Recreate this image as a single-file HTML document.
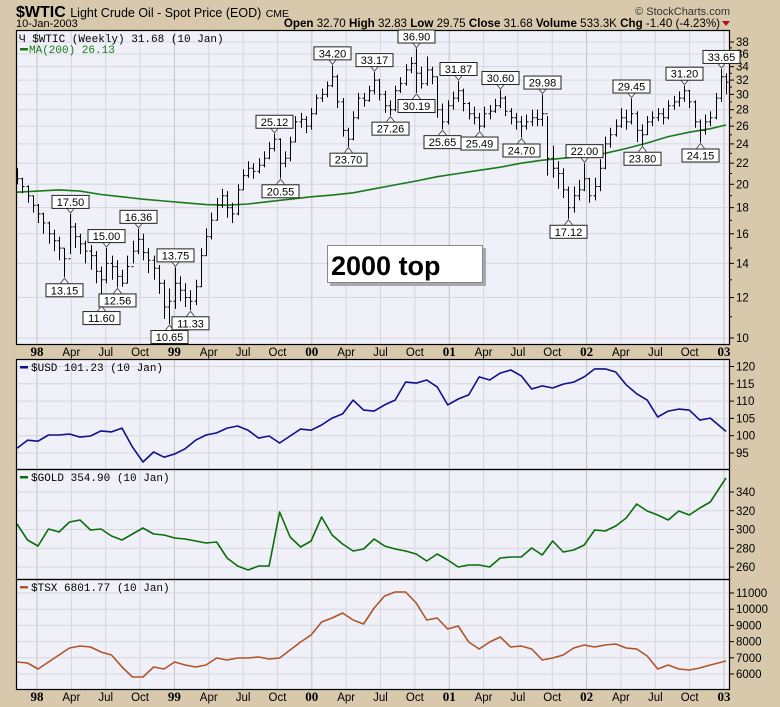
<!DOCTYPE html>
<html><head><meta charset="utf-8"><style>
html,body{margin:0;padding:0;background:#d8c9ad;}
svg{display:block;font-family:"Liberation Sans",sans-serif;}
</style></head><body>
<svg id="c" width="780" height="707" viewBox="0 0 780 707" xmlns="http://www.w3.org/2000/svg">
<rect x="0" y="0" width="780" height="707" fill="#d8c9ad"/>
<g>
<text x="16" y="17" font-size="16" font-weight="bold" fill="#000">$WTIC <tspan font-size="12.5" font-weight="normal">Light Crude Oil - Spot Price (EOD)</tspan> <tspan font-size="10.5" font-weight="normal">CME</tspan></text>
<text x="16" y="27" font-size="11" fill="#000">10-Jan-2003</text>
<text x="730" y="15" font-size="11" fill="#333" text-anchor="end">© StockCharts.com</text>
<text x="720" y="27" font-size="11.6" fill="#000" text-anchor="end"><tspan font-weight="bold">Open</tspan> 32.70 <tspan font-weight="bold">High</tspan> 32.83 <tspan font-weight="bold">Low</tspan> 29.75 <tspan font-weight="bold">Close</tspan> 31.68 <tspan font-weight="bold">Volume</tspan> 533.3K <tspan font-weight="bold">Chg</tspan> -1.40 (-4.23%)</text>
<path d="M722,21 L730,21 L726,26 Z" fill="#b0102a"/>
</g>
<g id="plots"></g>
</svg>
<script>
// ===== Data =====
const quarterLabels = ["98","Apr","Jul","Oct","99","Apr","Jul","Oct","00","Apr","Jul","Oct","01","Apr","Jul","Oct","02","Apr","Jul","Oct","03"];
const priceTicks = [10,12,14,16,18,20,22,24,26,28,30,32,34,36,38];
const usdTicks = [95,100,105,110,115,120];
const goldTicks = [260,280,300,320,340];
const tsxTicks = [6000,7000,8000,9000,10000,11000];

// biweekly WTIC bars
const wticClose = [20.5,19.8,19.0,18.2,17.5,16.8,16.0,15.5,15.0,14.3,
16.5,15.8,15.3,14.8,14.5,13.5,13.0,14.0,13.8,13.2,
12.8,13.8,14.8,15.6,14.7,14.2,13.7,12.8,11.5,11.8,
12.8,12.4,12.0,11.8,12.6,14.5,15.8,17.0,18.2,19.0,
18.0,17.5,19.5,20.8,21.5,21.2,21.8,22.5,23.5,24.5,
22.0,22.5,24.2,26.5,26.8,26.0,27.5,29.5,30.0,31.2,
32.5,29.0,25.5,24.5,27.0,29.5,29.2,30.5,32.0,30.0,
28.5,28.0,30.5,31.5,33.5,34.5,33.0,31.5,33.5,32.5,
28.0,26.5,28.5,29.5,30.5,28.8,27.5,27.0,26.0,27.5,
27.8,28.5,29.5,27.8,27.0,26.5,26.0,26.5,27.0,26.8,
27.5,22.5,21.5,21.0,19.5,18.0,19.0,19.5,20.5,19.0,
19.8,21.5,24.0,25.0,26.0,27.0,26.5,27.5,25.5,25.0,
26.5,27.0,27.5,27.0,28.5,29.0,29.5,30.5,29.0,26.5,
25.5,26.5,27.0,29.5,32.5,31.68];
const wticHigh = [21.5,20.6,19.9,19.0,18.3,17.6,16.9,16.3,15.8,15.0,
17.5,16.8,16.0,15.5,15.2,14.8,13.8,15.00,14.5,14.2,
13.6,14.5,15.5,16.36,16.0,15.0,14.5,13.9,13.0,12.5,
13.75,13.2,12.8,12.4,13.0,15.0,16.4,17.6,18.8,19.6,
19.4,18.4,20.0,21.4,22.2,22.0,22.5,23.2,24.2,25.12,
24.6,23.2,24.8,27.2,27.6,27.2,28.2,30.0,30.8,31.8,
34.20,32.8,29.5,25.8,27.8,30.2,30.2,31.2,33.17,32.2,
30.5,29.2,31.2,32.4,34.4,35.5,36.90,34.0,35.6,34.0,
32.5,28.8,29.2,30.4,31.87,30.8,29.0,28.4,27.6,28.4,
28.6,29.4,30.60,29.8,28.2,27.6,27.2,27.4,28.0,28.0,
29.98,27.2,23.8,22.2,21.5,19.8,19.8,20.4,22.00,20.6,
20.6,22.4,24.8,25.8,26.8,28.2,28.0,29.45,27.8,26.2,
27.2,27.8,28.2,28.2,29.2,29.8,30.4,31.20,30.6,29.2,
26.8,27.4,27.8,30.2,33.65,33.0];
const wticLow = [20.0,19.2,18.4,17.6,16.8,16.0,15.3,14.8,14.2,13.15,
14.6,15.0,14.6,14.0,13.6,12.8,11.60,12.8,13.0,12.56,
12.6,12.8,14.0,14.6,14.2,13.4,13.0,12.2,10.9,10.65,
11.4,11.8,11.5,11.33,11.6,12.6,14.5,15.6,17.0,18.0,
17.2,16.8,17.4,19.5,20.6,20.5,21.0,21.6,22.4,23.2,
20.55,21.6,22.2,24.2,25.8,25.2,25.6,27.4,29.0,29.6,
31.0,28.2,24.8,23.70,24.4,26.8,28.4,29.0,30.0,29.2,
27.6,27.26,27.8,30.2,31.2,33.0,30.19,30.8,31.2,31.4,
27.0,25.65,26.2,28.0,29.0,27.8,26.8,26.2,25.49,25.8,
26.8,27.6,28.2,27.2,26.2,25.6,24.70,25.6,26.0,26.0,
26.0,20.8,20.6,19.6,18.8,17.12,17.6,18.6,19.4,18.4,
18.6,19.4,21.4,23.6,24.8,25.8,25.6,26.2,24.2,23.80,
25.0,26.0,26.6,26.2,26.8,28.0,28.4,29.0,28.2,25.8,
24.15,25.0,26.0,26.8,29.0,30.0];
const highMarks = [10,17,23,30,49,60,68,76,84,92,100,108,117,127,134];
const lowMarks = [9,16,19,29,33,50,63,71,76,81,88,96,105,119,130];

// MA(200) every 8 weeks (4 bars), last point at the final bar
const ma200 = [19.3,19.4,19.5,19.4,19.1,18.9,18.7,18.55,18.4,18.25,18.2,18.3,18.5,18.7,18.9,19.05,19.25,19.6,19.95,20.3,20.7,21.0,21.3,21.6,22.0,22.3,22.5,22.7,23.0,23.5,24.1,24.8,25.3,25.7,26.13];

// 4-weekly line series
const usdVals = [96.4,98.7,98.4,100.2,100.2,100.5,99.6,99.9,101.4,101.1,102.2,96.7,92.4,95.3,93.8,94.7,96.2,98.7,100.2,100.8,102.2,102.8,101.6,99.3,99.9,97.9,99.9,101.9,101.6,103.1,105.1,106.3,110.3,107.4,107.1,108.9,110.3,115.5,115.2,116.1,114.1,108.9,110.6,111.8,117.0,116.1,118.1,119.0,117.3,113.5,114.4,113.8,114.9,115.5,117.0,119.3,119.3,118.4,114.7,112.1,110.3,105.4,107.1,107.7,107.4,104.5,105.1,101.23];
const goldVals = [305.9,288.8,282.4,300.5,297.3,308.0,310.1,299.5,300.5,293.1,288.8,295.2,301.6,295.2,294.1,290.9,289.9,287.7,285.6,286.7,269.6,261.1,256.8,261.1,261.1,318.7,292.0,281.3,287.7,313.3,294.1,284.5,277.1,279.2,289.9,282.4,279.2,277.1,273.9,266.4,273.9,267.5,260.0,262.1,262.1,260.0,269.6,270.7,270.7,280.3,272.8,287.7,276.0,278.1,283.5,299.5,298.4,303.7,312.3,327.2,319.7,315.5,310.1,319.7,315.5,322.9,329.3,354.9];
const tsxVals = [6743,6681,6311,6743,7175,7607,7730,7668,7360,7175,6434,5817,5817,6434,6311,6743,6558,6434,6558,6990,6866,6990,6990,7051,6928,6990,7483,7977,8409,9211,9458,9766,9334,9087,10075,10815,11062,11062,10383,9334,9458,8779,8964,7977,7545,7977,8285,7668,7730,7545,6866,6990,7175,7607,7792,7668,7792,7853,7607,7545,7113,6311,6558,6311,6249,6373,6558,6801.77];

// ===== Scales =====
const L = 16, R = 730;
const PX_WEEK = 2.626;
function xWeek(w){ return L + 1 + w * PX_WEEK; }
function xQuarter(j){ return 37 + j * 34.35; }
const P1 = {top:30,bot:344}, P2 = {top:359,bot:469}, P3 = {top:469,bot:579}, P4 = {top:579,bot:689};
function yPrice(v){ return 42 + 221.7 * Math.log(38 / v); }
function yUsd(v){ return 366.5 + (120 - v) * 3.46; }
function yGold(v){ return 492 + (340 - v) * 0.9375; }
function yTsx(v){ return 593 + (11000 - v) * 0.0162; }

const NS = "http://www.w3.org/2000/svg";
const plots = document.getElementById("plots");
function mk(tag, attrs, parent){
  const e = document.createElementNS(NS, tag);
  for (const k in attrs) e.setAttribute(k, attrs[k]);
  (parent || plots).appendChild(e);
  return e;
}

const defs = mk("defs", {});
[["c1",P1],["c2",P2],["c3",P3],["c4",P4]].forEach(([id,p])=>{
  const cp = mk("clipPath", {id:id}, defs);
  mk("rect", {x:L, y:p.top, width:R-L, height:p.bot-p.top}, cp);
});

function panel(p, name, ticks, yf, clipId, fmt, minor){
  const g = mk("g", {"clip-path":"url(#"+clipId+")"});
  
  
  const bg = mk("rect", {x:L, y:p.top, width:R-L, height:p.bot-p.top, fill:"#eff0f8"}, g);
  
  
  quarterLabels.forEach((lab, j)=>{
    const x = xQuarter(j);
    const isYear = j % 4 === 0;
    const ln = mk("line", {x1:x, x2:x, y1:p.top, y2:p.bot, stroke:isYear?"#c9c3b8":"#d6d6de", "stroke-width":1}, g);
    
    
  });
  ticks.forEach(t=>{
    const y = yf(t);
    const ln = mk("line", {x1:L, x2:R, y1:y, y2:y, stroke:"#d6d6de", "stroke-width":1}, g);
    
    
  });
  const ax = mk("g", {});
  
  
  ticks.forEach(t=>{
    const y = yf(t);
    if (y < p.top + 3 || y > p.bot - 2) return;
    mk("line", {x1:R, x2:R+4, y1:y, y2:y, stroke:"#000"}, ax);
    const tx = mk("text", {x:R+6, y:y+4, "font-size":11.5, fill:"#000"}, ax);
    tx.textContent = fmt(t);
    
    
  });
  if (minor) minor.forEach(t=>{
    const y = yf(t);
    mk("line", {x1:R, x2:R+2, y1:y, y2:y, stroke:"#000"}, ax);
  });
  return g;
}
function frame(p, name){
  const f = mk("rect", {x:L+0.5, y:p.top+0.5, width:R-L-1, height:p.bot-p.top, fill:"none", stroke:"#000", "stroke-width":1.2});
  
  
}
function legend(p, text, color, name){
  const g = mk("g", {});
  
  
  mk("rect", {x:20, y:p.top+7, width:8, height:2.5, fill:color}, g);
  const t = mk("text", {x:31, y:p.top+12, "font-size":11, "font-family":"'Liberation Mono',monospace", fill:"#000"}, g);
  t.textContent = text;
}
function linePath(vals, yf, stepWeeks, color, g, name){
  let d = "";
  vals.forEach((v,k)=>{
    let w = Math.min(k * stepWeeks, 270);
    if (k === vals.length - 1) w = 270;
    d += (k ? "L" : "M") + xWeek(w).toFixed(1) + "," + yf(v).toFixed(1);
  });
  const pth = mk("path", {d:d, fill:"none", stroke:color, "stroke-width":1.6, "stroke-linejoin":"round"}, g);
  
  
}

// ===== Panel 1: WTIC =====
const oddMinor = [11,13,15,17,19,21,23,25,27,29,31,33,35,37];
const g1 = panel(P1, "wtic", priceTicks, yPrice, "c1", t=>String(t), oddMinor);
linePath(ma200, yPrice, 8, "#1a7a1a", g1, "ma200-line");
const barsG = mk("g", {stroke:"#000", "stroke-width":1}, g1);


wticClose.forEach((c,i)=>{
  const x = Math.round(xWeek(i*2)) + 0.5;
  const o = i ? wticClose[i-1] : c;
  const bar = mk("path", {d:"M"+x+","+yPrice(wticHigh[i]).toFixed(1)+"V"+yPrice(wticLow[i]).toFixed(1)+
    "M"+(x-2)+","+yPrice(o).toFixed(1)+"H"+x+"M"+x+","+yPrice(c).toFixed(1)+"H"+(x+2)}, barsG);
  
  
});
frame(P1, "wtic");
const tagsG = mk("g", {});


function tag(i, isHigh){
  const v = isHigh ? wticHigh[i] : wticLow[i];
  const x = Math.round(xWeek(i*2)) + 0.5;
  const y = yPrice(v);
  const g = mk("g", {}, tagsG);
  
  
  const s = isHigh ? -1 : 1;
  const by = isHigh ? y - 6 - 13 : y + 6;
  mk("path", {d:"M"+(x-4)+","+(y+s*6)+"L"+x+","+(y+s*1)+"L"+(x+4)+","+(y+s*6), fill:"#fff", stroke:"#555", "stroke-width":1}, g);
  mk("rect", {x:x-18.5, y:by+0.5, width:37, height:13, fill:"#fff", stroke:"#222", "stroke-width":1}, g);
  const t = mk("text", {x:x, y:by+11, "font-size":11, "text-anchor":"middle", fill:"#000"}, g);
  t.textContent = v.toFixed(2);
}
highMarks.forEach(i=>tag(i,true));
lowMarks.forEach(i=>tag(i,false));
const ann = mk("g", {});


mk("rect", {x:330, y:248, width:156, height:38, fill:"#a8a8b0"}, ann);
mk("rect", {x:327.5, y:245.5, width:155, height:37, fill:"#fff", stroke:"#888"}, ann);
const annT = mk("text", {x:331, y:275, "font-size":27, "font-weight":"bold", fill:"#000"}, ann);
annT.textContent = "2000 top";
const lg1 = mk("g", {});


const lt1 = mk("text", {x:19, y:42, "font-size":11, "font-family":"'Liberation Mono',monospace", fill:"#000"}, lg1);
lt1.textContent = "\u0427 $WTIC (Weekly) 31.68 (10 Jan)";
mk("rect", {x:20, y:48, width:8, height:2.5, fill:"#1a7a1a"}, lg1);
const lt2 = mk("text", {x:29, y:53, "font-size":11, "font-family":"'Liberation Mono',monospace", fill:"#1a7a1a"}, lg1);
lt2.textContent = "MA(200) 26.13";

// ===== Panels 2-4 =====
const g2 = panel(P2, "usd", usdTicks, yUsd, "c2", t=>String(t));
linePath(usdVals, yUsd, 4, "#10108c", g2, "usd-line");
const g3 = panel(P3, "gold", goldTicks, yGold, "c3", t=>String(t));
linePath(goldVals, yGold, 4, "#0a6e0a", g3, "gold-line");
const g4 = panel(P4, "tsx", tsxTicks, yTsx, "c4", t=>String(t));
linePath(tsxVals, yTsx, 4, "#b0542a", g4, "tsx-line");
frame(P2, "usd"); frame(P3, "gold"); frame(P4, "tsx");
legend(P2, "$USD 101.23 (10 Jan)", "#10108c", "usd-legend");
legend(P3, "$GOLD 354.90 (10 Jan)", "#0a6e0a", "gold-legend");
legend(P4, "$TSX 6801.77 (10 Jan)", "#b0542a", "tsx-legend");

// ===== X axes =====
[356, 701].forEach((yy, n)=>{
  const g = mk("g", {});
  
  
  quarterLabels.forEach((lab,j)=>{
    const isYear = j % 4 === 0;
    const t = mk("text", {x:xQuarter(j), y:yy, "text-anchor":"middle", "font-size":isYear?13:11.5,
      "font-weight":isYear?"bold":"normal", "font-family":isYear?"'Liberation Serif',serif":"'Liberation Sans',sans-serif", fill:"#000"}, g);
    t.textContent = lab;
    
    
  });
});
</script>
</body></html>
